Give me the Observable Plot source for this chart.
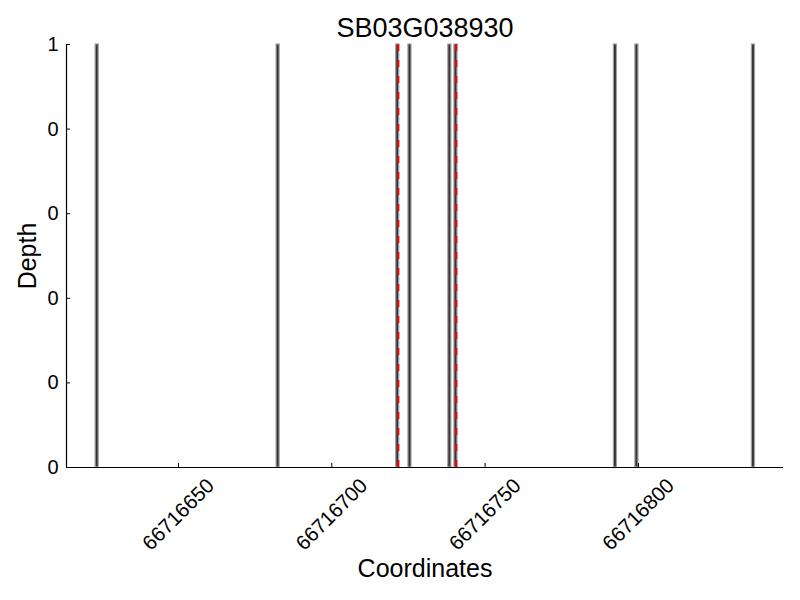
<!DOCTYPE html>
<html>
<head>
<meta charset="utf-8">
<script src="https://cdn.jsdelivr.net/npm/d3@7"></script>
<script src="https://cdn.jsdelivr.net/npm/@observablehq/plot@0.6"></script>
<style>
  html, body { margin: 0; padding: 0; background: #fff; }
  #chart svg { display: block; }
</style>
</head>
<body>
<div id="chart"></div>
<script>
// Data
const title = "SB03G038930";
const positions = [66716623, 66716682, 66716721, 66716725, 66716738, 66716740, 66716792, 66716799, 66716837];
const depths = [1, 1, 1, 1, 1, 1, 1, 1, 1];
const markerLines = [66716721.7, 66716740.6];
const xTicks = [66716650, 66716700, 66716750, 66716800];
const yTicks = [0, 0.2, 0.4, 0.6, 0.8, 1];
const xDomain = [66716613.5, 66716847.3];
const yDomain = [0, 1];

const bars = positions.map((p, i) => ({start: p, end: p + 1, depth: depths[i]}));
const font = "'Liberation Sans', Arial, Helvetica, sans-serif";

const chart = Plot.plot({
  width: 800,
  height: 600,
  marginLeft: 66,
  marginRight: 17,
  marginTop: 44,
  marginBottom: 133,
  style: {fontFamily: font, fontSize: "20px", color: "#000", background: "#fff"},
  x: {domain: xDomain, axis: null},
  y: {domain: yDomain, axis: null},
  marks: [
    Plot.rectY(bars, {x1: "start", x2: "end", y1: 0, y2: "depth", fill: "#333333", stroke: "#a0a0a0", strokeWidth: 1.2}),
    Plot.ruleX(markerLines, {stroke: "#ff0000", strokeWidth: 2, strokeDasharray: "7,9"}),
    Plot.ruleY([yDomain[0]], {stroke: "#000", strokeWidth: 1.2}),
    Plot.ruleX([xDomain[0]], {stroke: "#000", strokeWidth: 1.2}),
    // inward tick marks
    Plot.axisX(xTicks, {anchor: "bottom", label: null, tickSize: -4, tickFormat: () => "", stroke: "#000"}),
    Plot.axisY(yTicks, {anchor: "left", label: null, tickSize: -4, tickFormat: () => "", stroke: "#000"}),
    // tick labels
    Plot.axisX(xTicks, {anchor: "bottom", label: null, tickSize: 0, tickPadding: 47, rotate: -45, textAnchor: "middle", lineAnchor: "middle", tickFormat: d => String(d), fontSize: 20.5, fill: "#000"}),
    Plot.axisY(yTicks, {anchor: "left", label: null, tickSize: 0, tickPadding: 8, tickFormat: d => String(Math.floor(d + 1e-9)), fontSize: 20, fill: "#000"}),
    // title and axis labels
    Plot.text([title], {frameAnchor: "top", dy: -16, text: d => d, fontSize: 27, lineAnchor: "middle", fill: "#000"}),
    Plot.text(["Coordinates"], {frameAnchor: "bottom", dy: 101, text: d => d, fontSize: 25, lineAnchor: "middle", fill: "#000"}),
    Plot.text(["Depth"], {frameAnchor: "left", dx: -39, rotate: -90, text: d => d, fontSize: 25, lineAnchor: "middle", textAnchor: "middle", fill: "#000"})
  ]
});
document.getElementById("chart").appendChild(chart);
</script>
</body>
</html>
